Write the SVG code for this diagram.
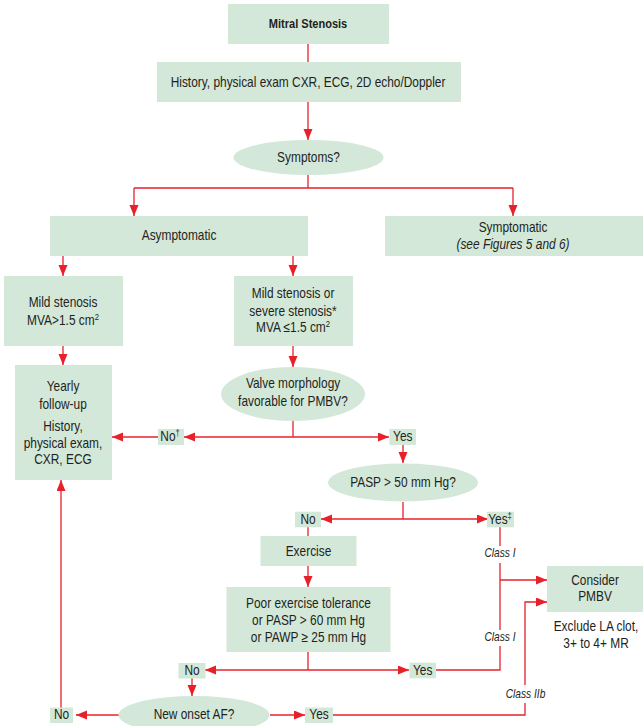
<svg xmlns="http://www.w3.org/2000/svg" width="643" height="726" viewBox="0 0 643 726">
<style>
text{font-family:"Liberation Sans",Arial,sans-serif;font-size:14px;fill:#231f20;text-anchor:middle;transform-box:fill-box;transform-origin:center;transform:scaleX(0.85)}
.b{font-weight:bold;font-size:13px}
.i{font-style:italic;font-size:12px}
.box{fill:#d3e8d9}
.c{fill:none;stroke:#e8202a;stroke-width:1.3}
.a{marker-end:url(#ah)}
.sup{font-size:9px}
</style>
<defs>
<marker id="ah" markerUnits="userSpaceOnUse" markerWidth="12" markerHeight="10" refX="11" refY="4.5" orient="auto">
<path d="M0,0 L11,4.5 L0,9 Z" fill="#e8202a"/>
</marker>
</defs>
<g id="connectors">
<path class="c" d="M308,44 V62"/>
<path class="c a" d="M308,102 V140"/>
<path class="c" d="M308,175 V188 M134,188 H513"/>
<path class="c a" d="M134,188 V216"/>
<path class="c a" d="M513,188 V216"/>
<path class="c a" d="M63,256 V276"/>
<path class="c a" d="M293,256 V276"/>
<path class="c a" d="M63,346 V365"/>
<path class="c a" d="M293,346 V367"/>
<path class="c" d="M293,421 V437"/>
<path class="c a" d="M293,437 H184"/>
<path class="c a" d="M158,437 H112"/>
<path class="c a" d="M293,437 H389"/>
<path class="c a" d="M403,445 V463"/>
<path class="c" d="M403,502 V519"/>
<path class="c a" d="M403,519 H321"/>
<path class="c a" d="M403,519 H488"/>
<path class="c" d="M308,527 V536"/>
<path class="c a" d="M308,566 V587"/>
<path class="c" d="M308,652 V670"/>
<path class="c a" d="M308,670 H205"/>
<path class="c a" d="M308,670 H409"/>
<path class="c" d="M500,527 V546"/>
<path class="c" d="M500,563 V630"/>
<path class="c" d="M436,670 H500 V646"/>
<path class="c a" d="M500,580 H547"/>
<path class="c a" d="M192,678 V696"/>
<path class="c a" d="M119,715 H76"/>
<path class="c a" d="M61,708 V480"/>
<path class="c a" d="M270,715 H305"/>
<path class="c" d="M333,715 H525 V703"/>
<path class="c a" d="M525,685 V602 H547"/>
</g>
<g id="n-title"><rect class="box" x="228" y="4" width="161" height="40"/><text class="b" x="308" y="28.5">Mitral Stenosis</text></g>
<g id="n-history"><rect class="box" x="157" y="62" width="304" height="40"/><text x="308" y="87.5">History, physical exam CXR, ECG, 2D echo/Doppler</text></g>
<g id="n-symptoms"><ellipse class="box" cx="308.5" cy="157.5" rx="75" ry="17.5"/><text x="308.5" y="162">Symptoms?</text></g>
<g id="n-asym"><rect class="box" x="50" y="216" width="258" height="40"/><text x="179" y="240.5">Asymptomatic</text></g>
<g id="n-sym"><rect class="box" x="385" y="216" width="258" height="40"/><text x="513" y="232.5">Symptomatic</text><text x="513" y="249.5" font-style="italic">(see Figures 5 and 6)</text></g>
<g id="n-mild"><rect class="box" x="4" y="276" width="119" height="70"/><text x="63" y="307.5">Mild stenosis</text><text x="63" y="325.5">MVA&gt;1.5 cm<tspan class="sup" dy="-5">2</tspan></text></g>
<g id="n-severe"><rect class="box" x="234" y="276" width="119" height="70"/><text x="293" y="298.5">Mild stenosis or</text><text x="293" y="316">severe stenosis*</text><text x="293" y="332">MVA ≤1.5 cm<tspan class="sup" dy="-5">2</tspan></text></g>
<g id="n-yearly"><rect class="box" x="15" y="365" width="97" height="115"/><text x="63" y="391.5">Yearly</text><text x="63" y="409.5">follow-up</text><text x="63" y="431">History,</text><text x="63" y="448">physical exam,</text><text x="63" y="464.5">CXR, ECG</text></g>
<g id="n-valve"><ellipse class="box" cx="293" cy="394" rx="72" ry="27"/><text x="293" y="388.5">Valve morphology</text><text x="293" y="406">favorable for PMBV?</text></g>
<g id="n-no1"><rect class="box" x="158" y="429" width="26" height="16"/><text x="170" y="441.5">No<tspan class="sup" dy="-5">†</tspan></text></g>
<g id="n-yes1"><rect class="box" x="389.5" y="429" width="26.5" height="16"/><text x="402.7" y="441.5">Yes</text></g>
<g id="n-pasp"><ellipse class="box" cx="403" cy="482.5" rx="75" ry="19"/><text x="403" y="487">PASP &gt; 50 mm Hg?</text></g>
<g id="n-no2"><rect class="box" x="295" y="511.7" width="26" height="15.6"/><text x="308" y="524">No</text></g>
<g id="n-yes2"><rect class="box" x="487" y="511.7" width="27" height="15.6"/><text x="500" y="524">Yes<tspan class="sup" dy="-5">‡</tspan></text></g>
<g id="n-exercise"><rect class="box" x="260.5" y="536" width="96" height="30"/><text x="308.5" y="556">Exercise</text></g>
<g id="n-poor"><rect class="box" x="226.5" y="587" width="164" height="65"/><text x="308.5" y="608">Poor exercise tolerance</text><text x="308.5" y="625.5">or PASP &gt; 60 mm Hg</text><text x="308.5" y="642">or PAWP ≥ 25 mm Hg</text></g>
<g id="n-consider"><rect class="box" x="547" y="566" width="96" height="46"/><text x="595" y="585.5">Consider</text><text x="595" y="601.5">PMBV</text><text x="596" y="631">Exclude LA clot,</text><text x="596" y="648">3+ to 4+ MR</text></g>
<g id="n-no3"><rect class="box" x="178.5" y="663" width="27" height="15.5"/><text x="192" y="675">No</text></g>
<g id="n-yes3"><rect class="box" x="409.5" y="662.7" width="26.5" height="15.6"/><text x="422.7" y="675">Yes</text></g>
<g id="n-af"><ellipse class="box" cx="194" cy="715" rx="75.5" ry="19"/><text x="194" y="719.5">New onset AF?</text></g>
<g id="n-no4"><rect class="box" x="50" y="707.5" width="23" height="15.5"/><text x="61.5" y="719.5">No</text></g>
<g id="n-yes4"><rect class="box" x="305" y="707.5" width="28" height="15.5"/><text x="319" y="719.5">Yes</text></g>
<g id="labels"><text class="i" x="500" y="557">Class I</text><text class="i" x="500" y="641">Class I</text><text class="i" x="525.5" y="698">Class IIb</text></g>
</svg>
